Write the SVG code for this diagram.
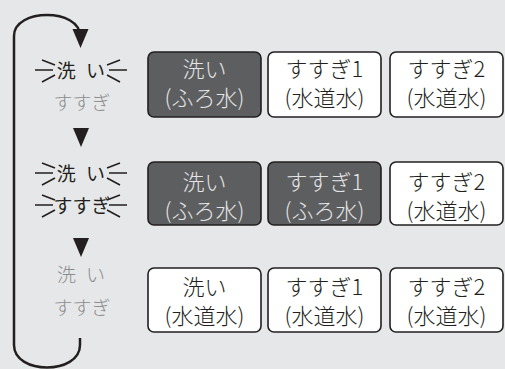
<svg xmlns="http://www.w3.org/2000/svg" width="505" height="369" viewBox="0 0 505 369">
<style>
.bg{fill:#e6e7e8}
.box{stroke:#231f20;stroke-width:1.6}
.dark{fill:#5d5e60}
.light{fill:#ffffff}
text{font-family:"Noto Sans CJK JP","Noto Sans",sans-serif;font-weight:300}
.bt{font-size:22px;text-anchor:middle}
.bt.on{fill:#e4e4e5}
.bt.off{fill:#231f20}
.lt{font-size:19px;text-anchor:middle;word-spacing:6px}
.ls{font-size:19px;text-anchor:middle}
.act{fill:#231f20;font-weight:400}
.ina{fill:#8b8c8e}
.spark{stroke:#231f20;stroke-width:1.5;fill:none}
.loop{stroke:#231f20;stroke-width:2.5;fill:none}
.tri{fill:#231f20}
</style>
<rect class="bg" x="0" y="0" width="505" height="369"/>
<g id="connectors">
<path class="loop" d="M80 338 V345 C80 375 14 375 14 345 V36 C14 8 80 8 80 36"/>
<polygon class="tri" points="72.5,29 88.5,29 80.5,48"/>
<polygon class="tri" points="73,128 89,128 81,147"/>
<polygon class="tri" points="73,238 89,238 81,257"/>
</g>
<g id="step1-label">
<path class="spark" d="M42 60 L55 65 M35 70 L53 70 M42 82 L55 75 M120 60 L107 65 M127 70 L109 70 M120 82 L107 75"/>
<text class="lt act" x="81" y="78">洗 い</text>
<text class="ls ina" x="82" y="110">すすぎ</text>
</g>
<g id="step2-label">
<path class="spark" d="M42 163 L55 168 M35 173 L53 173 M42 185 L55 178 M120 163 L107 168 M127 173 L109 173 M120 185 L107 178"/>
<path class="spark" d="M42 195 L55 200 M35 205 L53 205 M42 217 L55 210 M120 195 L107 200 M127 205 L109 205 M120 217 L107 210"/>
<text class="lt act" x="81" y="181">洗 い</text>
<text class="ls act" x="82" y="213">すすぎ</text>
</g>
<g id="step3-label">
<text class="lt ina" x="81" y="282">洗 い</text>
<text class="ls ina" x="82" y="315">すすぎ</text>
</g>
<g id="r1-wash">
<rect class="box dark" x="148" y="52" width="113" height="65" rx="6"/>
<text class="bt on" x="204.5" y="77">洗い</text>
<text class="bt on" x="204.5" y="106">(ふろ水)</text>
</g>
<g id="r1-rinse1">
<rect class="box light" x="268" y="52" width="113" height="65" rx="6"/>
<text class="bt off" x="324.5" y="77">すすぎ1</text>
<text class="bt off" x="324.5" y="106">(水道水)</text>
</g>
<g id="r1-rinse2">
<rect class="box light" x="390" y="52" width="113" height="65" rx="6"/>
<text class="bt off" x="446.5" y="77">すすぎ2</text>
<text class="bt off" x="446.5" y="106">(水道水)</text>
</g>
<g id="r2-wash">
<rect class="box dark" x="148" y="162" width="113" height="63" rx="6"/>
<text class="bt on" x="204.5" y="190">洗い</text>
<text class="bt on" x="204.5" y="219">(ふろ水)</text>
</g>
<g id="r2-rinse1">
<rect class="box dark" x="268" y="162" width="113" height="63" rx="6"/>
<text class="bt on" x="324.5" y="190">すすぎ1</text>
<text class="bt on" x="324.5" y="219">(ふろ水)</text>
</g>
<g id="r2-rinse2">
<rect class="box light" x="390" y="162" width="113" height="63" rx="6"/>
<text class="bt off" x="446.5" y="190">すすぎ2</text>
<text class="bt off" x="446.5" y="219">(水道水)</text>
</g>
<g id="r3-wash">
<rect class="box light" x="148" y="268" width="113" height="64" rx="6"/>
<text class="bt off" x="204.5" y="295">洗い</text>
<text class="bt off" x="204.5" y="324">(水道水)</text>
</g>
<g id="r3-rinse1">
<rect class="box light" x="268" y="268" width="113" height="64" rx="6"/>
<text class="bt off" x="324.5" y="295">すすぎ1</text>
<text class="bt off" x="324.5" y="324">(水道水)</text>
</g>
<g id="r3-rinse2">
<rect class="box light" x="390" y="268" width="113" height="64" rx="6"/>
<text class="bt off" x="446.5" y="295">すすぎ2</text>
<text class="bt off" x="446.5" y="324">(水道水)</text>
</g>
</svg>
